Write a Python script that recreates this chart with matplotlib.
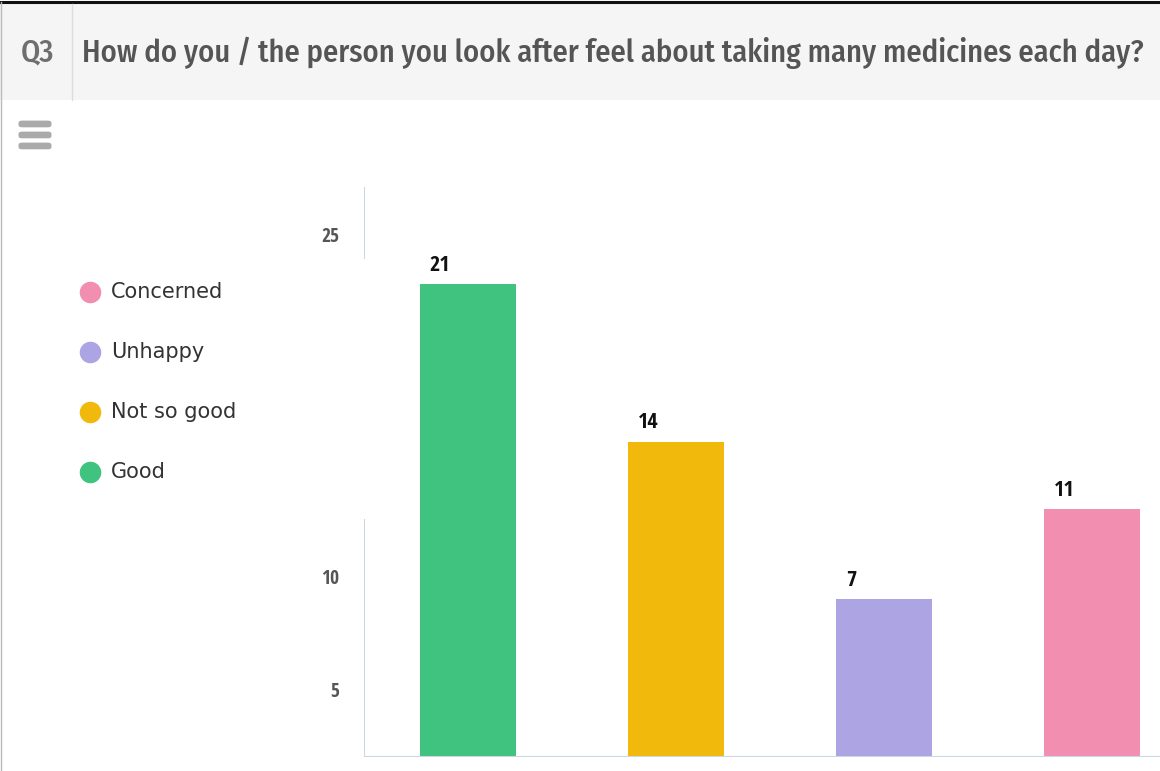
import matplotlib
matplotlib.use('Agg')
import matplotlib.pyplot as plt
from matplotlib.patches import Rectangle, FancyBboxPatch
from matplotlib.lines import Line2D
from matplotlib import font_manager

# survey answers
categories = ['Good', 'Not so good', 'Unhappy', 'Concerned']
counts = [21, 14, 7, 11]
colors = ['#40c37e', '#f2b90d', '#ada4e4', '#f28fb0']

# legend is listed bottom-up
legend_order = ['Concerned', 'Unhappy', 'Not so good', 'Good']

tick_pos = [3, 8, 23.2]
tick_text = ['5', '10', '25']

question = 'Q3'
title = 'How do you / the person you look after feel about taking many medicines each day?'


def pick_font(options, default='DejaVu Sans'):
    installed = {f.name for f in font_manager.fontManager.ttflist}
    for name in options:
        if name in installed:
            return name
    return default


head_font = pick_font(['Fira Sans Condensed', 'Roboto Condensed', 'PT Sans Narrow',
                       'Archivo Narrow', 'Open Sans Condensed'])
digit_font = pick_font(['Open Sans Condensed', 'Roboto Condensed', 'Archivo Narrow'])

W, H = 1160, 771
fig = plt.figure(figsize=(W / 100, H / 100), dpi=100)
fig.patch.set_facecolor('white')


def fx(x):
    return x / W


def fy(y):
    return 1 - y / H


# header band
fig.patches.append(Rectangle((0, fy(100)), 1, fy(3) - fy(100), transform=fig.transFigure,
                             facecolor='#f5f5f5', edgecolor='none', zorder=0))
fig.add_artist(Line2D([0, 1], [fy(1.5), fy(1.5)], transform=fig.transFigure, color='#111111', lw=2.2))
fig.add_artist(Line2D([fx(1), fx(1)], [0, fy(2)], transform=fig.transFigure, color='#bbbbbb', lw=1))
fig.add_artist(Line2D([fx(72), fx(72)], [fy(100), fy(4)], transform=fig.transFigure, color='#dddddd', lw=1))

fig.text(fx(37), fy(53), question, fontsize=22, color='#6e6e6e', family=head_font,
         fontweight='medium', ha='center', va='center')
fig.text(fx(82), fy(53), title, fontsize=22, color='#555555', family=head_font,
         fontweight='medium', ha='left', va='center')

# menu icon
for yy in (123, 134, 145):
    fig.patches.append(FancyBboxPatch((fx(22), fy(yy + 2)), fx(26), fy(yy) - fy(yy + 2) + 0.0001,
                                      boxstyle='round,pad=0.003', transform=fig.transFigure,
                                      facecolor='#aaaaaa', edgecolor='none'))

# legend
for i, name in enumerate(legend_order):
    y = fy(292 + 60 * i)
    c = colors[categories.index(name)]
    fig.add_artist(Line2D([fx(90)], [y], marker='o', markersize=14.5, color=c,
                          transform=fig.transFigure, linestyle='none'))
    fig.text(fx(111), y, name, fontsize=15, color='#333333', family='DejaVu Sans',
             ha='left', va='center')

# bar chart
ax = fig.add_axes([fx(364), fy(757), fx(832), fy(187) - fy(757)])
x = list(range(len(categories)))
ax.bar(x, counts, width=0.46, color=colors, zorder=2)
ax.set_xlim(-0.5, 3.5)
ax.set_ylim(0, 25.3)

for i, v in enumerate(counts):
    ax.annotate(str(v), (i - 0.23, v), xytext=(7, 6), textcoords='offset points',
                ha='left', va='bottom', fontsize=16, fontweight='bold',
                family=digit_font, color='#111111')

for s in ax.spines.values():
    s.set_visible(False)
ax.axhline(0, color='#ccd6e3', lw=1.5, zorder=3)
# broken y axis line
ax.axvline(-0.5, ymin=0, ymax=(757 - 520) / 570, color='#ccd6e3', lw=1.5)
ax.axvline(-0.5, ymin=(757 - 258) / 570, ymax=1, color='#ccd6e3', lw=1.5)

ax.set_xticks([])
ax.set_yticks(tick_pos)
ax.set_yticklabels(tick_text)
ax.tick_params(axis='y', length=0, pad=18, labelsize=14, labelcolor='#555555')
for lab in ax.get_yticklabels():
    lab.set_family(digit_font)
    lab.set_fontweight('bold')
ax.set_facecolor('none')

fig.savefig('out.png', dpi=100)
